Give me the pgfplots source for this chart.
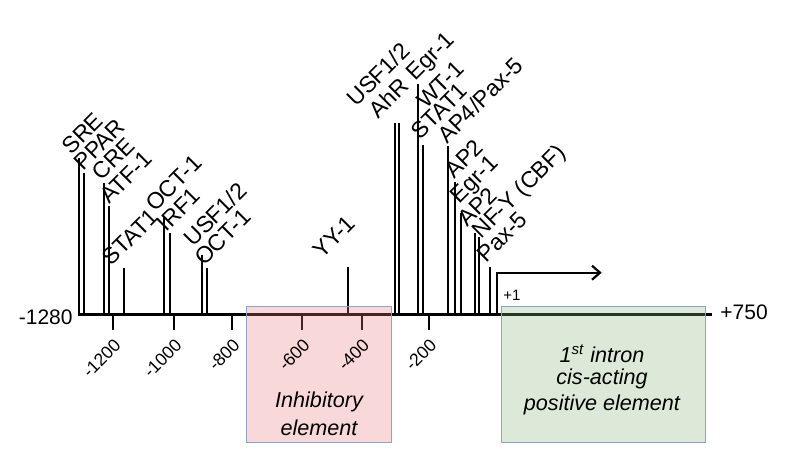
\documentclass[border=0pt]{standalone}
\usepackage{pgfplots}
\pgfplotsset{compat=1.18}
\usepackage{pgfplotstable}
\usepackage{fontspec}
\setmainfont{Liberation Sans}
\usetikzlibrary{arrows.meta}
\definecolor{pinkbox}{RGB}{232,125,125}
\definecolor{greenbox}{RGB}{140,180,125}
\definecolor{boxedge}{RGB}{140,165,205}

% binding sites: position on the drawing, height above the baseline
\pgfplotstableread[col sep=comma,row sep=\\]{
x,h\\
79,157\\
84.3,142\\
103.7,132\\
109,109\\
124,47\\
164.3,98\\
169.7,82\\
202.3,60\\
207.3,47\\
348.3,48\\
395,192\\
399,192\\
417.7,231\\
423.3,170\\
448.3,169\\
455,133\\
460.7,102\\
475,82\\
479,78\\
490,48\\
}\stems

% labels of the sites: where each text starts
\pgfplotstableread[col sep=comma,row sep=\\]{
lx,ly,label\\
71,159,SRE\\
83,143,PPAR\\
101.5,133,CRE\\
109.5,110,ATF-1\\
111.5,48,STAT1\\
155,102,OCT-1\\
166.5,82,IRF1\\
193,67,USF1/2\\
204,48,OCT-1\\
322,55,YY-1\\
356,207,USF1/2\\
378,195,AhR\\
415.5,233,Egr-1\\
426,205,WT-1\\
420.5,174,STAT1\\
447,170,AP4/Pax-5\\
454,135,AP2\\
459,110,Egr-1\\
467.5,87,AP2\\
481,75,NF-Y (CBF)\\
486,51,Pax-5\\
}\labels

% scale ticks
\pgfplotstableread[col sep=comma,row sep=\\]{
x,h,lx,ly,label\\
113.3,-15,117.8,-27,-1200\\
174.3,-15,178.8,-27,-1000\\
232.3,-15,236.8,-27,-800\\
302.3,-15,306.8,-27,-600\\
361.7,-15,366.2,-27,-400\\
429,-15,433.5,-27,-200\\
}\ticks

\begin{document}
\begin{tikzpicture}
\begin{axis}[
  width=400pt, height=225pt, scale only axis,
  xmin=0, xmax=800, ymin=-135, ymax=315,
  axis lines=none, clip=false,
]
% baseline
\addplot[black, line width=1.5pt, mark=none] coordinates {(78,0) (712,0)};
% ticks
\addplot[ycomb, black, line width=1.1pt, mark=none] table[x=x,y=h]{\ticks};
\addplot[draw=none, mark=none, nodes near coords, point meta=explicit symbolic,
  every node near coord/.style={font=\fontsize{8.8}{10}\selectfont, inner sep=0pt, anchor=east, rotate=45}]
  table[x=lx,y=ly,meta=label]{\ticks};
% sites
\addplot[ycomb, black, line width=1.1pt, mark=none] table[x=x,y=h]{\stems};
\addplot[draw=none, mark=none, nodes near coords, point meta=explicit symbolic,
  every node near coord/.style={font=\fontsize{11.5}{13}\selectfont, inner sep=0pt, anchor=base west, rotate=45}]
  table[x=lx,y=ly,meta=label]{\labels};
% transcription start arrow
\addplot[black, line width=1.1pt, mark=none, -{Straight Barb[length=4pt,width=7pt,line width=1.1pt]}]
  coordinates {(496.7,0) (496.7,42.3) (601.7,42.3)};
% boxes
\addplot[draw=boxedge, line width=0.5pt, fill=pinkbox, fill opacity=0.3, draw opacity=1]
  coordinates {(246,8) (391,8) (391,-128) (246,-128)} -- cycle;
\addplot[draw=boxedge, line width=0.5pt, fill=greenbox, fill opacity=0.3, draw opacity=1]
  coordinates {(501.5,8) (705.5,8) (705.5,-128) (501.5,-128)} -- cycle;
% texts
\node[anchor=east, inner sep=0pt, font=\fontsize{10.5}{12}\selectfont] at (axis cs:73,-2) {-1280};
\node[anchor=west, inner sep=0pt, font=\fontsize{10.5}{12}\selectfont] at (axis cs:720,2.5) {+750};
\node[inner sep=0pt, font=\fontsize{7.5}{8}\selectfont] at (axis cs:512,20) {+1};
\node[inner sep=0pt, font=\fontsize{10.8}{12}\selectfont\itshape] at (axis cs:319,-86.7) {Inhibitory};
\node[inner sep=0pt, font=\fontsize{10.8}{12}\selectfont\itshape] at (axis cs:319,-113) {element};
\node[inner sep=0pt, font=\fontsize{10.8}{12}\selectfont\itshape] at (axis cs:602,-39) {1\textsuperscript{st} intron};
\node[inner sep=0pt, font=\fontsize{10.8}{12}\selectfont\itshape] at (axis cs:602,-64) {cis-acting};
\node[inner sep=0pt, font=\fontsize{10.8}{12}\selectfont\itshape] at (axis cs:602,-90) {positive element};
\end{axis}
\pgfresetboundingbox
\path (current axis.south west) rectangle (current axis.north east);
\end{tikzpicture}
\end{document}
